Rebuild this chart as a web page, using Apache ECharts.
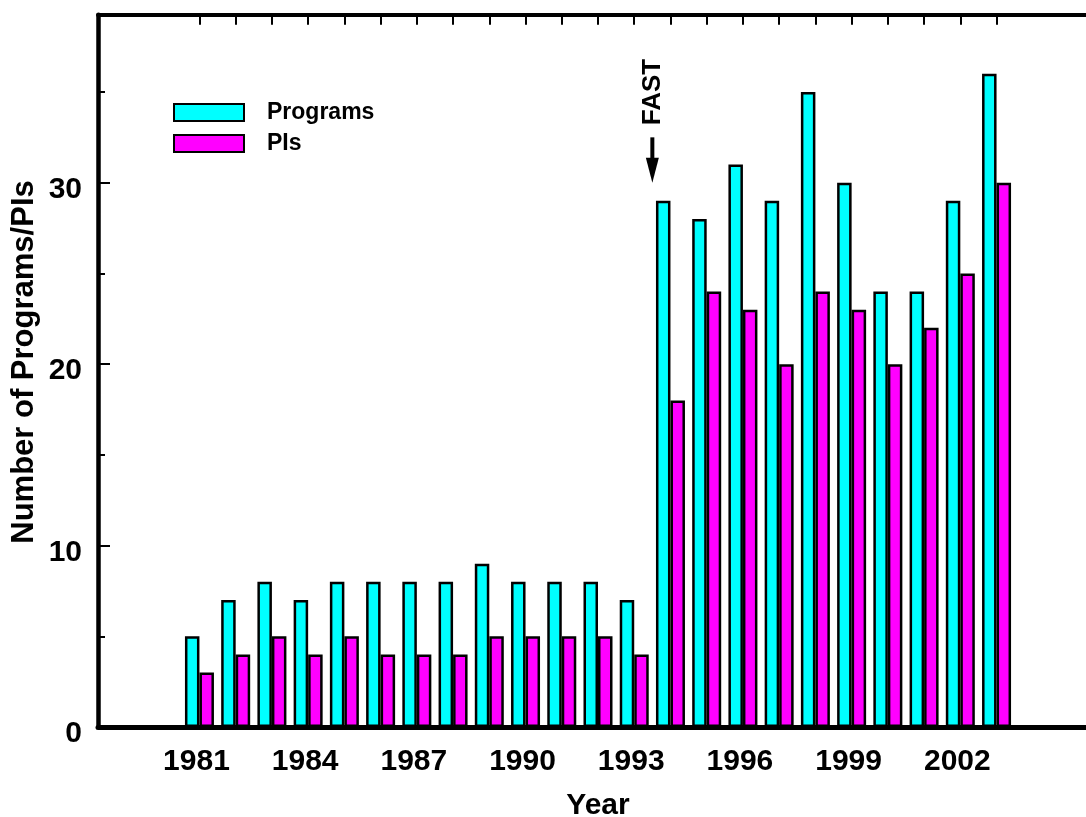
<!DOCTYPE html>
<html>
<head>
<meta charset="utf-8">
<script src="https://cdn.jsdelivr.net/npm/echarts@6/dist/echarts.min.js"></script>
<style>
html,body{margin:0;padding:0;background:#fff;}
#chart{width:1086px;height:817px;}
</style>
</head>
<body>
<div id="chart"></div>
<script>
// ---- data ----
const years = [1981,1982,1983,1984,1985,1986,1987,1988,1989,1990,1991,1992,1993,1994,1995,1996,1997,1998,1999,2000,2001,2002,2003];
const programs = [5,7,8,7,8,8,8,8,9,8,8,8,7,29,28,31,29,35,30,24,24,29,36];
const pis = [3,4,5,4,5,4,4,4,5,5,5,5,4,18,24,23,20,24,23,20,22,25,30];
const xTickLabels = [1981,1984,1987,1990,1993,1996,1999,2002];
const yTickLabels = [0,10,20,30];
const yMinorTicks = [5,15,25,35];
const seriesNames = ['Programs','PIs'];
// annotation: arrow at year, from value to value; text centred at value
const fastYear = 1993.5;
const fastArrow = [32.5, 30];
const fastTextAt = 35;
const fastText = 'FAST';

// ---- layout ----
const xMin = 1978.2, xMax = 2005.8;
const yMin = 0, yMax = 39.26;
const FONT = '"Liberation Sans", Arial, Helvetica, sans-serif';

const chart = echarts.init(document.getElementById('chart'), null, {renderer:'canvas'});

const progData = years.map((y,i)=>[y, programs[i]]);
const piData = years.map((y,i)=>[y, pis[i]]);

const option = {
  backgroundColor:'#ffffff',
  animation:false,
  textStyle:{fontFamily:FONT},
  grid:{left:98, top:14.7, right:-12, bottom:90, containLabel:false, outerBoundsMode:'none'},
  legend:{
    orient:'vertical', left:173, top:101, padding:0,
    itemWidth:70, itemHeight:17, itemGap:8,
    icon:'rect',
    textStyle:{fontFamily:FONT, fontWeight:'bold', fontSize:23, color:'#000', padding:[0,0,0,18]},
    data:seriesNames
  },
  xAxis:[
    {
      type:'value', min:xMin, max:xMax, position:'bottom',
      axisLine:{show:true, onZero:false, lineStyle:{color:'#000', width:5}},
      axisTick:{show:false},
      splitLine:{show:false},
      axisLabel:{customValues:xTickLabels, margin:20, fontFamily:FONT, fontWeight:'bold', fontSize:30, color:'#000', padding:[0,6,0,0],
        formatter:v=>String(Math.round(v))},
      name:'Year', nameLocation:'middle', nameGap:64,
      nameTextStyle:{fontFamily:FONT, fontWeight:'bold', fontSize:30, color:'#000'}
    },
    {
      type:'value', min:xMin, max:xMax, position:'top',
      axisLine:{show:true, onZero:false, lineStyle:{color:'#000', width:4}},
      axisTick:{show:true, inside:true, length:10, customValues:years, lineStyle:{color:'#000', width:2}},
      axisLabel:{show:false},
      splitLine:{show:false}
    }
  ],
  yAxis:[
    {
      type:'value', min:yMin, max:yMax, position:'left',
      axisLine:{show:true, onZero:false, lineStyle:{color:'#000', width:4.5}},
      axisTick:{show:true, inside:true, length:12, customValues:yTickLabels, lineStyle:{color:'#000', width:2}},
      axisLabel:{customValues:yTickLabels, margin:16, fontFamily:FONT, fontWeight:'bold', fontSize:30, color:'#000', verticalAlign:'top', lineHeight:14},
      splitLine:{show:false}
    },
    {
      type:'value', min:yMin, max:yMax, position:'left',
      axisLine:{show:false},
      axisTick:{show:true, inside:true, length:7, customValues:yMinorTicks, lineStyle:{color:'#000', width:2}},
      axisLabel:{show:false},
      splitLine:{show:false}
    }
  ],
  series:[
    {
      name:seriesNames[0], type:'bar', xAxisIndex:0, yAxisIndex:0,
      data:progData, barWidth:14.5, barGap:'0%',
      itemStyle:{color:'#00ffff', borderColor:'#000', borderWidth:2.5}
    },
    {
      name:seriesNames[1], type:'bar', xAxisIndex:0, yAxisIndex:0,
      data:piData, barWidth:14.5, barGap:'0%',
      itemStyle:{color:'#ff00ff', borderColor:'#000', borderWidth:2.5}
    }
  ]
};
chart.setOption(option);

// annotation & y-axis title
const fx = {xAxisIndex:0, yAxisIndex:0};
const pTop = chart.convertToPixel(fx, [fastYear, fastArrow[0]]);
const pTip = chart.convertToPixel(fx, [fastYear, fastArrow[1]]);
const pTxt = chart.convertToPixel(fx, [fastYear, fastTextAt]);
const headH = 25, headW = 13;
chart.setOption({
  graphic:[
    {type:'line', shape:{x1:pTop[0], y1:pTop[1], x2:pTip[0], y2:pTip[1]-headH+2}, style:{stroke:'#000', lineWidth:4}, z:10},
    {type:'polygon', shape:{points:[[pTip[0]-headW/2, pTip[1]-headH],[pTip[0]+headW/2, pTip[1]-headH],[pTip[0], pTip[1]]]}, style:{fill:'#000'}, z:10},
    {type:'text', x:pTxt[0], y:pTxt[1], rotation:Math.PI/2, style:{text:fastText, font:'bold 26px '+FONT, fill:'#000', align:'center', verticalAlign:'middle'}, z:10},
    {type:'text', x:24, y:362, rotation:Math.PI/2, style:{text:'Number of Programs/PIs', font:'bold 31px '+FONT, fill:'#000', align:'center', verticalAlign:'middle'}, z:10}
  ]
});
</script>
</body>
</html>
